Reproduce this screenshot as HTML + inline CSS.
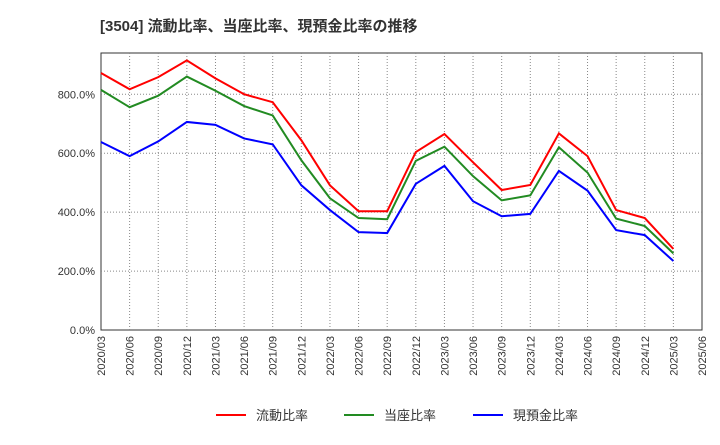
<!DOCTYPE html>
<html><head><meta charset="utf-8"><style>
body{margin:0;background:#fff;font-family:"Liberation Sans","Noto Sans CJK JP",sans-serif;}
svg text{font-family:"Liberation Sans","Noto Sans CJK JP",sans-serif;}
</style></head><body>
<svg id="c" width="720" height="440">
<text x="100" y="31" font-size="15" font-weight="bold" fill="#333">[3504]  流動比率、当座比率、現預金比率の推移</text>
</svg>
<script>
const categories=["2020/03","2020/06","2020/09","2020/12","2021/03","2021/06","2021/09","2021/12","2022/03","2022/06","2022/09","2022/12","2023/03","2023/06","2023/09","2023/12","2024/03","2024/06","2024/09","2024/12","2025/03"];
const tickLabels=["2020/03","2020/06","2020/09","2020/12","2021/03","2021/06","2021/09","2021/12","2022/03","2022/06","2022/09","2022/12","2023/03","2023/06","2023/09","2023/12","2024/03","2024/06","2024/09","2024/12","2025/03","2025/06"];
const yTicks=[0,200,400,600,800];
const currentRatio=[872,817,858,915,854,800,773,644,491,403,403,604,665,569,475,492,667,590,407,380,275];
const quickRatio=[815,756,795,860,812,760,728,576,447,380,376,574,622,522,440,457,620,534,378,353,260];
const cashRatio=[638,590,640,706,696,650,630,491,407,332,329,496,557,437,386,394,540,473,339,322,234];
const NS="http://www.w3.org/2000/svg",svg=document.getElementById('c');
const L=101,R=702,T=53,B=330;
const x=i=>L+i*(R-L)/(tickLabels.length-1);
const y=v=>B-v*(B-T)/940;
function el(t,a){const e=document.createElementNS(NS,t);for(const k in a)e.setAttribute(k,a[k]);svg.appendChild(e);return e;}
const bg=el('rect',{x:L,y:T,width:R-L,height:B-T,fill:'#fff',stroke:'#333'});


tickLabels.forEach((t,i)=>{
 if(i>0&&i<tickLabels.length-1){const g=el('line',{x1:x(i),x2:x(i),y1:T,y2:B,stroke:'#888','stroke-dasharray':'1,2'});
 
 }
 const tx=el('text',{x:0,y:0,'font-size':11,fill:'#333','text-anchor':'end',transform:`translate(${x(i)+4},${B+6}) rotate(-90)`});
 tx.textContent=t;
 
 
});
yTicks.forEach(v=>{
 if(v>0){const g=el('line',{x1:L,x2:R,y1:y(v),y2:y(v),stroke:'#888','stroke-dasharray':'1,2'});
 
 }
 const tx=el('text',{x:L-6,y:y(v)+4,'font-size':11,fill:'#333','text-anchor':'end'});
 tx.textContent=v.toFixed(1)+'%';
 
 
});
function series(d,c,n){const p=el('polyline',{points:d.map((v,i)=>x(i)+','+y(v)).join(' '),fill:'none',stroke:c,'stroke-width':2});
 
 }
series(currentRatio,'#f00','current-ratio-line');
series(quickRatio,'#228b22','quick-ratio-line');
series(cashRatio,'#00f','cash-ratio-line');
[["流動比率",'#f00',216],["当座比率",'#228b22',344],["現預金比率",'#00f',473]].forEach(([t,c,lx])=>{
 const l=el('line',{x1:lx,x2:lx+30,y1:415,y2:415,stroke:c,'stroke-width':2});
 
 
 const tx=el('text',{x:lx+40,y:420,'font-size':13,fill:'#333'});
 tx.textContent=t;
 
 
});
</script>
</body></html>
